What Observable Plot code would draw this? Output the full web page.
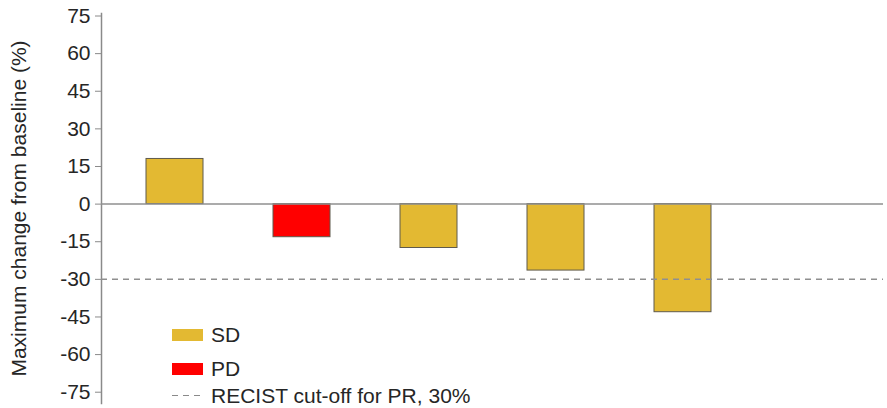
<!DOCTYPE html>
<html>
<head>
<meta charset="utf-8">
<script src="https://cdn.jsdelivr.net/npm/d3@7"></script>
<script src="https://cdn.jsdelivr.net/npm/@observablehq/plot@0.6"></script>
<style>
  html, body { margin: 0; padding: 0; background: #fff; }
  #wrap { position: relative; width: 887px; height: 408px; font-family: "Liberation Sans", Arial, sans-serif; color: #262626; }
  #legend { position: absolute; left: 172px; top: 324px; font-size: 21px; line-height: 1; }
  .row { position: absolute; left: 0; white-space: nowrap; display: flex; align-items: center; }
  .sw { width: 31px; height: 12px; margin-right: 8px; }
  .dash { width: 31px; height: 1.5px; margin-right: 8px;
          background: repeating-linear-gradient(to right, #8a8a8a 0 6px, transparent 6px 11px); }
</style>
</head>
<body>
<div id="wrap"></div>
<script>
const patients = ["1", "2", "3", "4", "5"];
const slots = ["1", "2", "3", "4", "5", "6"];
const values = [18.0, -13.2, -17.5, -26.5, -43.1];
const response = ["SD", "PD", "SD", "SD", "SD"];
const categories = ["SD", "PD"];
const colors = ["#E3B932", "#FF0000"];
const yTicks = [-75, -60, -45, -30, -15, 0, 15, 30, 45, 60, 75];
const cutoff = [-30];
const cutoffLabel = "RECIST cut-off for PR, 30%";

const data = patients.map((p, i) => ({patient: p, value: values[i], response: response[i]}));

const chart = Plot.plot({
  width: 887,
  height: 408,
  marginLeft: 101,
  marginRight: 4,
  marginTop: 13,
  marginBottom: 5,
  style: {fontFamily: "Liberation Sans, Arial, sans-serif", fontSize: "21px", color: "#262626", background: "white"},
  x: {type: "band", domain: slots, paddingInner: 0.55, paddingOuter: 0.33, axis: null},
  y: {domain: [-79.5, 76]},
  color: {domain: categories, range: colors},
  marks: [
    Plot.axisY({
      ticks: yTicks,
      tickFormat: d => String(d),
      tickSize: 6,
      tickPadding: 5,
      fontSize: 21,
      stroke: "#8a8a8a",
      label: "Maximum change from baseline (%)",
      labelAnchor: "center",
      labelArrow: "none",
      labelOffset: 90
    }),
    Plot.frame({anchor: "left", stroke: "#8a8a8a", strokeWidth: 1.5}),
    Plot.barY(data, {x: "patient", y: "value", fill: "response", stroke: "#5f5a4c", strokeWidth: 1}),
    Plot.ruleY([0], {stroke: "#8f8f8f", strokeWidth: 1.5}),
    Plot.ruleY(cutoff, {stroke: "#8f8f8f", strokeWidth: 1.5, strokeDasharray: "6,5"})
  ]
});

const wrap = document.getElementById("wrap");
wrap.appendChild(chart);

const legend = document.createElement("div");
legend.id = "legend";
const rows = [
  {type: "sw", color: colors[0], text: categories[0], top: 0},
  {type: "sw", color: colors[1], text: categories[1], top: 34},
  {type: "dash", text: cutoffLabel, top: 61}
];
rows.forEach(r => {
  const row = document.createElement("div");
  row.className = "row";
  row.style.top = r.top + "px";
  const s = document.createElement("span");
  s.className = r.type;
  if (r.type === "sw") s.style.background = r.color;
  row.appendChild(s);
  const t = document.createElement("span");
  t.textContent = r.text;
  row.appendChild(t);
  legend.appendChild(row);
});
wrap.appendChild(legend);
</script>
</body>
</html>
